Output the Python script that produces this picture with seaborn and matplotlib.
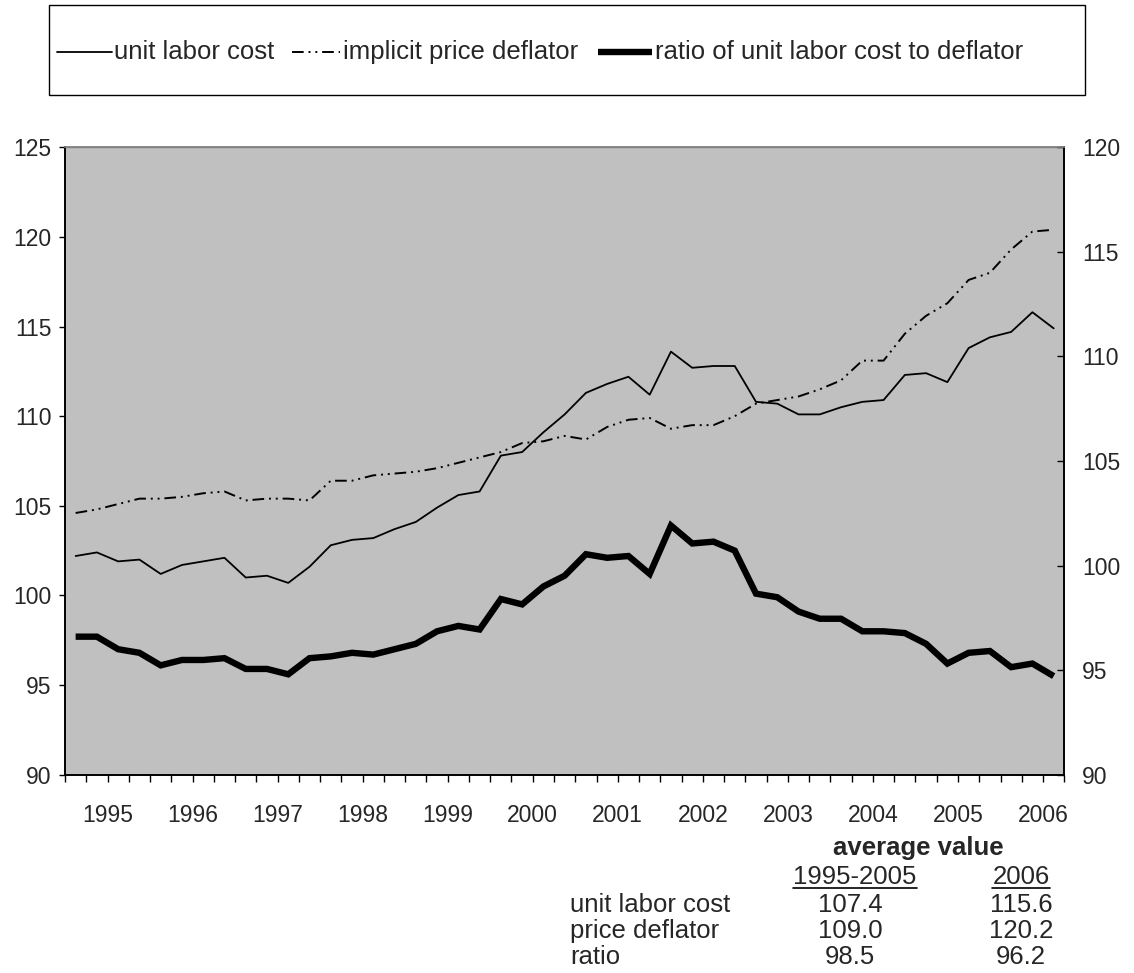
import numpy as np
import pandas as pd
import matplotlib
matplotlib.use("Agg")
import matplotlib.pyplot as plt
import seaborn as sns
from matplotlib.patches import Rectangle
from matplotlib.lines import Line2D

# Quarterly index values, 1995 Q1 through 2006 Q3
years = list(range(1995, 2007))
unit_labor_cost = [
    102.2, 102.4, 101.9, 102.0, 101.2, 101.7, 101.9, 102.1, 101.0, 101.1, 100.7, 101.6,
    102.8, 103.1, 103.2, 103.7, 104.1, 104.9, 105.6, 105.8, 107.8, 108.0, 109.1, 110.1,
    111.3, 111.8, 112.2, 111.2, 113.6, 112.7, 112.8, 112.8, 110.8, 110.7, 110.1, 110.1,
    110.5, 110.8, 110.9, 112.3, 112.4, 111.9, 113.8, 114.4, 114.7, 115.8, 114.9,
]
price_deflator = [
    104.6, 104.8, 105.1, 105.4, 105.4, 105.5, 105.7, 105.8, 105.3, 105.4, 105.4, 105.3,
    106.4, 106.4, 106.7, 106.8, 106.9, 107.1, 107.4, 107.7, 108.0, 108.5, 108.6, 108.9,
    108.7, 109.4, 109.8, 109.9, 109.3, 109.5, 109.5, 110.0, 110.7, 110.9, 111.1, 111.5,
    112.0, 113.1, 113.1, 114.6, 115.6, 116.3, 117.6, 118.0, 119.3, 120.3, 120.4,
]
cost_to_deflator_ratio = [
    97.7, 97.7, 97.0, 96.8, 96.1, 96.4, 96.4, 96.5, 95.9, 95.9, 95.6, 96.5,
    96.6, 96.8, 96.7, 97.0, 97.3, 98.0, 98.3, 98.1, 99.8, 99.5, 100.5, 101.1,
    102.3, 102.1, 102.2, 101.2, 103.9, 102.9, 103.0, 102.5, 100.1, 99.9, 99.1, 98.7,
    98.7, 98.0, 98.0, 97.9, 97.3, 96.2, 96.8, 96.9, 96.0, 96.2, 95.5,
]
left_ticks = [90, 95, 100, 105, 110, 115, 120, 125]
right_ticks = [90, 95, 100, 105, 110, 115, 120]

series_names = ["unit labor cost", "implicit price deflator",
                "ratio of unit labor cost to deflator"]
summary_title = "average value"
summary_periods = ["1995-2005", "2006"]
summary_rows = ["unit labor cost", "price deflator", "ratio"]
avg_1995_2005 = ["107.4", "109.0", "98.5"]
avg_2006 = ["115.6", "120.2", "96.2"]

sns.set_theme(style="white")
plt.rcParams["font.family"] = ["Liberation Sans", "DejaVu Sans"]

W, H = 1134, 973
fig = plt.figure(figsize=(W / 100, H / 100), dpi=100)


def fx(px):
    return px / W


def fy(py):
    return 1 - py / H


left, right, top, bottom = 65, 1064.3, 147.3, 774.7
ax = fig.add_axes([fx(left), fy(bottom), fx(right - left), (bottom - top) / H])
ax.set_facecolor("#C0C0C0")

n = len(unit_labor_cost)
df = pd.DataFrame({
    "quarter": np.arange(n),
    "ulc": unit_labor_cost,
    "deflator": price_deflator,
    "ratio": cost_to_deflator_ratio,
})

DASH_DOT_DOT = (6, 2.5, 1, 2.5, 1, 2.5)
styles = [
    dict(linewidth=1.3),
    dict(linewidth=1.4, dashes=DASH_DOT_DOT),
    dict(linewidth=4.6, solid_capstyle="butt", solid_joinstyle="miter"),
]

sns.lineplot(data=df, x="quarter", y="ulc", ax=ax, color="black", linewidth=1.3)
sns.lineplot(data=df, x="quarter", y="deflator", ax=ax, color="black", linewidth=1.4)
ax.lines[-1].set_dashes(DASH_DOT_DOT)
sns.lineplot(data=df, x="quarter", y="ratio", ax=ax, color="black", linewidth=4.6)
ax.lines[-1].set_solid_joinstyle("miter")
ax.lines[-1].set_solid_capstyle("butt")

ax.set_xlim(-0.5, n - 0.5)
ax.set_ylim(90, 125)
ax.set_xlabel("")
ax.set_ylabel("")
ax.set_yticks(left_ticks)
ax.set_yticklabels([str(t) for t in left_ticks])
ax.tick_params(axis="y", direction="out", length=4.5, width=1, color="black",
               labelsize=16.5, pad=5, left=True)

# year names centred under each year, quarter boundaries as tick marks
ax.xaxis.remove_overlapping_locs = False
ax.set_xticks([4 * j + 1.5 for j in range(len(years))])
ax.set_xticklabels([str(y) for y in years])
ax.tick_params(axis="x", which="major", length=0, labelsize=16.5, pad=21)
ax.set_xticks(np.arange(-0.5, n, 1.0), minor=True)
ax.tick_params(axis="x", which="minor", direction="out", length=5, width=1,
               color="black", bottom=True)

for side in ["left", "bottom", "right"]:
    ax.spines[side].set_color("black")
    ax.spines[side].set_linewidth(1.2)
ax.spines["top"].set_color("#808080")
ax.spines["top"].set_linewidth(1.0)

ax2 = ax.twinx()
ax2.set_ylim(90, 120)
ax2.set_yticks(right_ticks)
ax2.set_yticklabels([str(t) for t in right_ticks])
ax2.tick_params(axis="y", direction="in", length=5, width=1, color="black",
                labelsize=16.5, pad=13, right=True)
ax2.grid(False)
ax.grid(False)
for side in ["left", "bottom", "right"]:
    ax2.spines[side].set_color("black")
    ax2.spines[side].set_linewidth(1.2)
ax2.spines["top"].set_color("#808080")

# legend box across the top, entries placed along one row
fig.patches.append(Rectangle((fx(49), fy(95)), fx(1085 - 49), (95 - 5) / H,
                             transform=fig.transFigure, facecolor="white",
                             edgecolor="black", linewidth=1.0, zorder=0))
legend_y = 52
key_spans = [(57, 112), (292, 340), (598, 652)]
label_x = [114, 343, 655]
for (x0, x1), lx, name, st in zip(key_spans, label_x, series_names, styles):
    fig.add_artist(Line2D([fx(x0), fx(x1)], [fy(legend_y), fy(legend_y)],
                          transform=fig.transFigure, color="black", **st))
    fig.text(fx(lx), fy(legend_y), name, ha="left", va="center", fontsize=18.5)

# summary table beneath the axis
txt_size = 18.5
fig.text(fx(918), fy(848), summary_title, ha="center", va="center",
         fontsize=txt_size, fontweight="bold")
col_x = [855, 1021]
period_texts = []
for cx, label in zip(col_x, summary_periods):
    period_texts.append(fig.text(fx(cx), fy(877), label, ha="center", va="center",
                                 fontsize=txt_size))
row_y = [905, 931, 957]
for ry, name, v1, v2 in zip(row_y, summary_rows, avg_1995_2005, avg_2006):
    fig.text(fx(570), fy(ry), name, ha="left", va="center", fontsize=txt_size)
    fig.text(fx(col_x[0] - 5), fy(ry), v1, ha="center", va="center", fontsize=txt_size)
    fig.text(fx(col_x[1]), fy(ry), v2, ha="center", va="center", fontsize=txt_size)

fig.canvas.draw()
renderer = fig.canvas.get_renderer()
for t in period_texts:
    bb = t.get_window_extent(renderer)
    y_line = fy(887.5)
    fig.add_artist(Line2D([bb.x0 / fig.bbox.width, bb.x1 / fig.bbox.width],
                          [y_line, y_line], transform=fig.transFigure,
                          color="black", linewidth=1.2))

fig.savefig("out.png", dpi=100, facecolor="white")
